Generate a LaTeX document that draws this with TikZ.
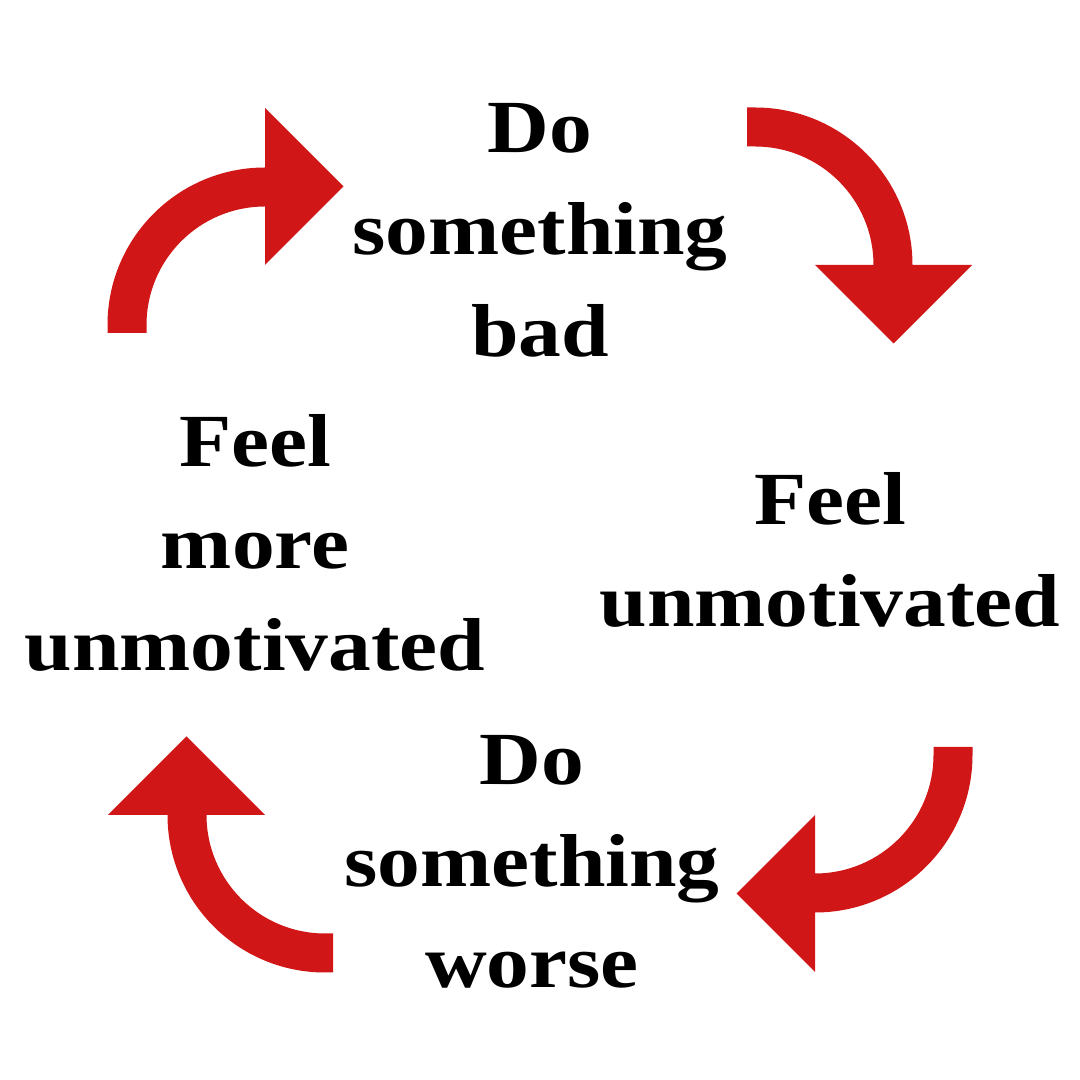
\documentclass[tikz,border=0pt]{standalone}
\usepackage{fontspec}
\setmainfont[FakeStretch=1.14]{Liberation Serif}
\definecolor{cyclered}{RGB}{209,22,23}
\begin{document}
\begin{tikzpicture}[x=1pt,y=1pt,
  label/.style={align=center, inner sep=0pt, anchor=base, text=black,
    font=\fontsize{75}{102}\selectfont\bfseries},
  arrowfill/.style={fill=cyclered, draw=none}]
\fill[white] (0,0) rectangle (1080,1080);
\useasboundingbox (0,0) rectangle (1080,1080);
% curved arrows (one shape, rotated four times about the centre)
\foreach \r in {0,-90,-180,-270} {
  \fill[arrowfill, rotate around={\r:(540,540)}]
    (107.5,747) -- (107.5,755)
    arc[start angle=180, end angle=90, radius=157.5pt]
    -- (265,972) -- (343.5,893.5) -- (265,815) -- (265,873.5)
    arc[start angle=90, end angle=180, radius=118.5pt]
    -- (146.5,747) -- cycle;
}
% anchor=base sits on the last line's baseline
\node[label] (bad) at (540,723) {Do\\something\\bad};
\node[label] (unmot) at (830,453) {Feel\\unmotivated};
\node[label] (worse) at (532,92) {Do\\something\\worse};
\node[label] (more) at (255,409) {Feel\\more\\unmotivated};
\end{tikzpicture}
\end{document}
